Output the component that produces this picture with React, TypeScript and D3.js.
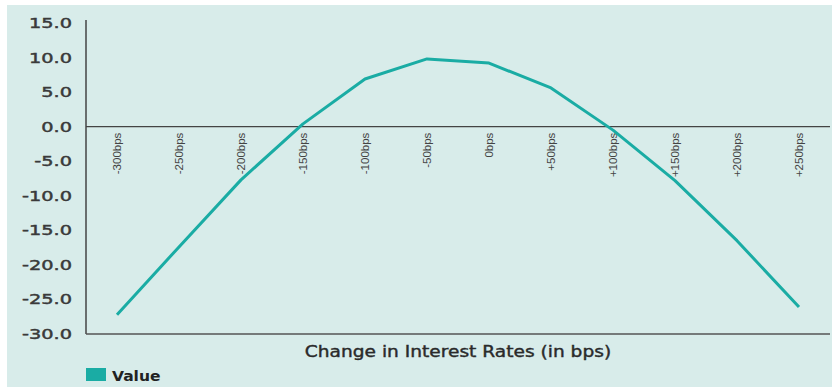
import React from "react";
import * as d3 from "d3";

const categories = ["-300bps", "-250bps", "-200bps", "-150bps", "-100bps", "-50bps", "0bps", "+50bps", "+100bps", "+150bps", "+200bps", "+250bps"];
const values = [-27.2, -17.4, -7.7, 0.4, 6.9, 9.8, 9.2, 5.6, -0.5, -7.8, -16.5, -26.1];
const yTicks = [15, 10, 5, 0, -5, -10, -15, -20, -25, -30];
const seriesName = "Value";
const axisTitle = "Change in Interest Rates (in bps)";

const W = 832, H = 387;
const left = 86, right = 830, top = 23, bottom = 334;
const teal = "#1aaca4";

export default function App() {
  const x = d3.scaleBand<string>().domain(categories).range([left, right]);
  const y = d3.scaleLinear().domain([-30, 15]).range([bottom, top]);
  const line = d3.line<number>().x((_, i) => (x(categories[i]) as number) + x.bandwidth() / 2).y(d => y(d));
  return (
    <svg width={W} height={H} style={{ position: "absolute", left: 0, top: 0 }}>
      <rect x={0} y={0} width={W} height={H} fill="#ffffff" />
      <rect x={7} y={5} width={W - 7} height={H - 5} fill="#d8ecea" />
      {yTicks.map(t => (
        <text key={t} transform={`translate(72,${y(t)}) scale(1.38,1)`} dy="0.36em" textAnchor="end" fontFamily="DejaVu Sans" fontSize={14} fill="#3a3a3a" stroke="#3a3a3a" strokeWidth={0.45}>
          {t.toFixed(1)}
        </text>
      ))}
      <line x1={left} x2={left} y1={top - 3} y2={bottom} stroke="#444" strokeWidth={1.5} />
      <line x1={left} x2={right} y1={bottom} y2={bottom} stroke="#555" strokeWidth={1.5} />
      <line x1={left} x2={right} y1={y(0)} y2={y(0)} stroke="#444" strokeWidth={1.3} />
      {categories.map(c => {
        const cx = (x(c) as number) + x.bandwidth() / 2;
        const ty = y(0) + 6;
        return (
          <text key={c} transform={`translate(${cx + 4},${ty}) rotate(-90)`} textAnchor="end" fontFamily="Liberation Sans Narrow, Liberation Sans" fontSize={11.5} fill="#444">
            {c}
          </text>
        );
      })}
      <path d={line(values) || ""} fill="none" stroke={teal} strokeWidth={3} strokeLinejoin="round" />
      <text transform="translate(458,357) scale(1.2,1)" textAnchor="middle" fontFamily="DejaVu Sans" fontSize={15.5} fill="#2a2a2a" stroke="#2a2a2a" strokeWidth={0.4}>
        {axisTitle}
      </text>
      <rect x={86} y={368} width={20} height={13} fill={teal} />
      <text transform="translate(112,381) scale(1.15,1)" fontFamily="DejaVu Sans" fontWeight="bold" fontSize={13.5} fill="#222">
        {seriesName}
      </text>
    </svg>
  );
}
